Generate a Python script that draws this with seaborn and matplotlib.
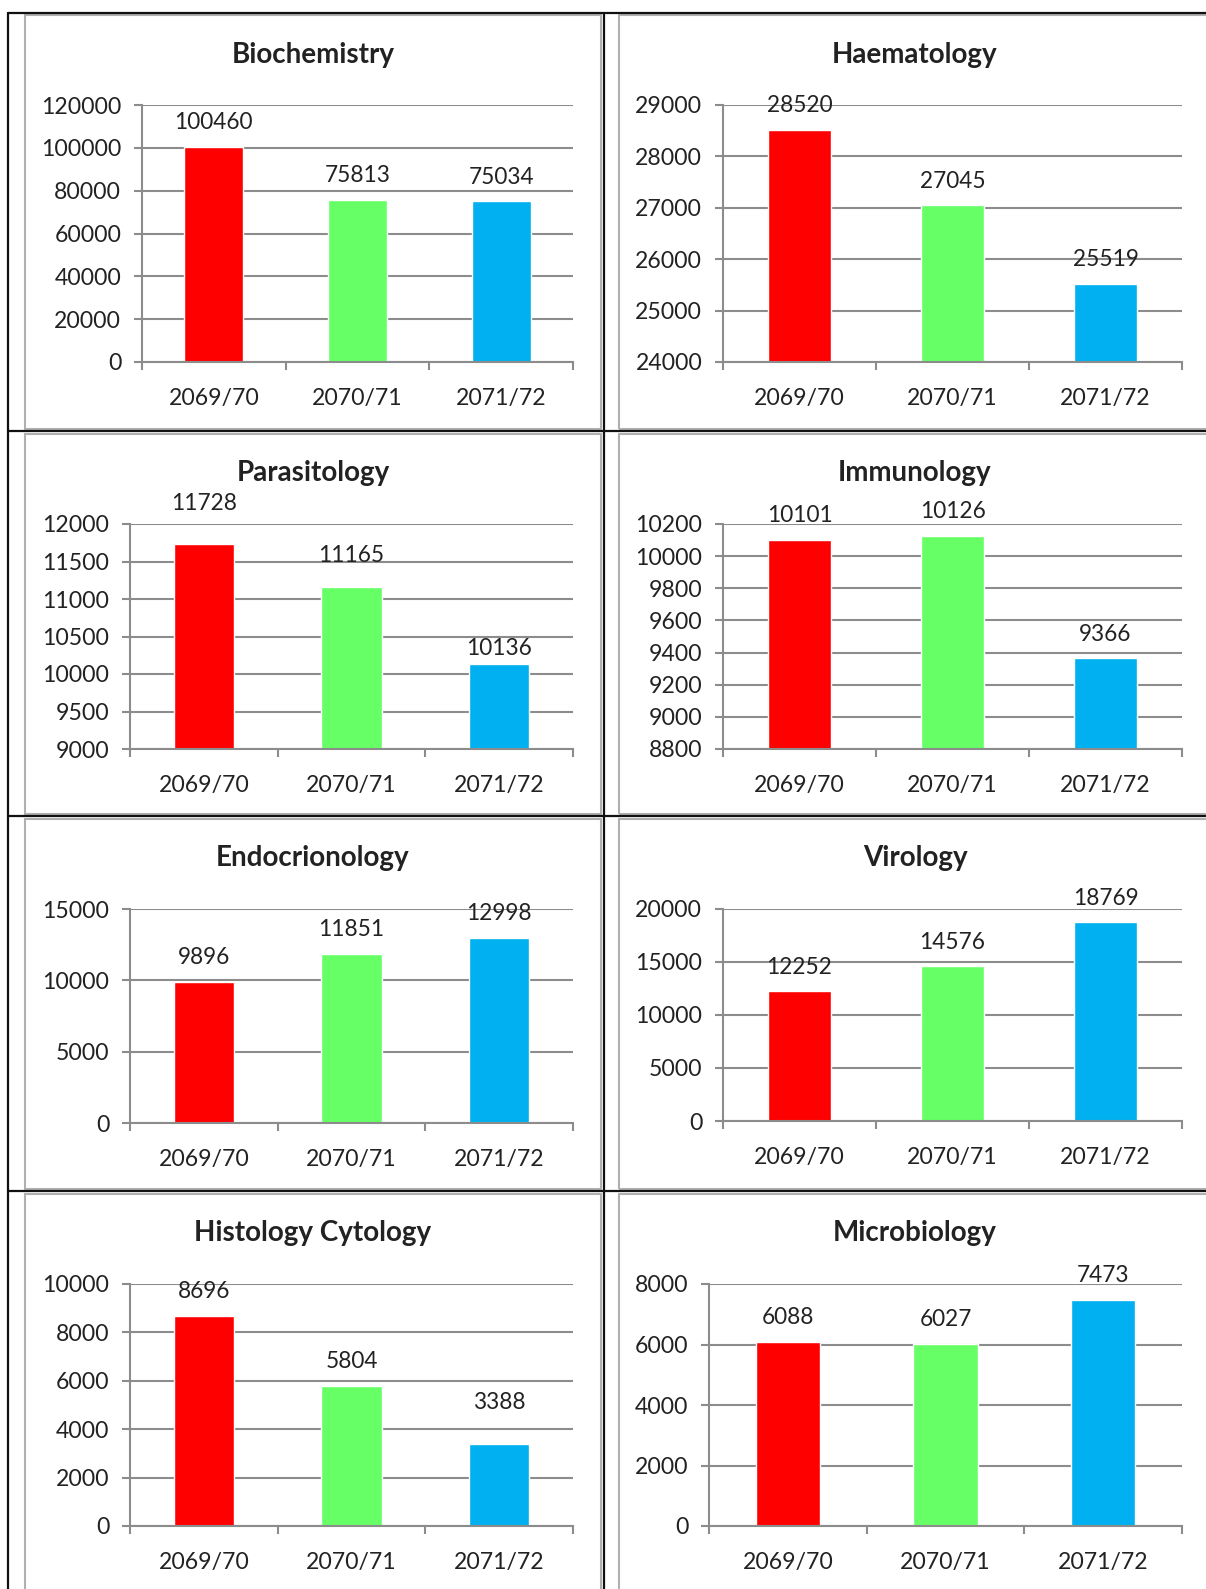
import numpy as np
import pandas as pd
import matplotlib
matplotlib.use("Agg")
import matplotlib.pyplot as plt
from matplotlib.lines import Line2D
from matplotlib.patches import Rectangle
import seaborn as sns

# ---------------- data ----------------
years = ["2069/70", "2070/71", "2071/72"]
bar_colors = ["#FF0000", "#66FF66", "#00B0F0"]

titles = ["Biochemistry", "Haematology", "Parasitology", "Immunology",
          "Endocrionology", "Virology", "Histology Cytology", "Microbiology"]

biochemistry = [100460, 75813, 75034]
haematology = [28520, 27045, 25519]
parasitology = [11728, 11165, 10136]
immunology = [10101, 10126, 9366]
endocrionology = [9896, 11851, 12998]
virology = [12252, 14576, 18769]
histology_cytology = [8696, 5804, 3388]
microbiology = [6088, 6027, 7473]

# y-axis ranges: (min, max, step)
y_biochemistry = (0, 120000, 20000)
y_haematology = (24000, 29000, 1000)
y_parasitology = (9000, 12000, 500)
y_immunology = (8800, 10200, 200)
y_endocrionology = (0, 15000, 5000)
y_virology = (0, 20000, 5000)
y_histology = (0, 10000, 2000)
y_microbiology = (0, 8000, 2000)

series = [biochemistry, haematology, parasitology, immunology,
          endocrionology, virology, histology_cytology, microbiology]
yranges = [y_biochemistry, y_haematology, y_parasitology, y_immunology,
           y_endocrionology, y_virology, y_histology, y_microbiology]

# label offsets above the bar tops (points); a few labels were moved by hand
DEF = 17.3
label_offsets = [
    [DEF, DEF, DEF], [DEF, DEF, DEF],
    [29.7, 22.4, 10.7], [DEF, DEF, DEF],
    [DEF, DEF, DEF], [DEF, DEF, DEF],
    [DEF, DEF, 29.7], [DEF, DEF, DEF],
]

# ---------------- layout (pixels) ----------------
W, H = 1206, 1589
sns.set_theme(style="white")
plt.rcParams['font.family'] = ['Lato', 'DejaVu Sans']

fig = plt.figure(figsize=(W / 100, H / 100), dpi=100)
fig.patch.set_facecolor("white")


def fx(x):
    return x / W


def fy(y):
    return 1 - y / H


# plot areas: (left, right, top, bottom)
areas = [
    (142, 573, 105, 362), (723, 1182, 105, 362),
    (130, 573, 524, 749), (723, 1182, 524, 749),
    (130, 573, 909, 1123), (723, 1182, 909, 1121),
    (130, 573, 1284, 1526), (709, 1182, 1284, 1526),
]
title_y = [55, 55, 473, 473, 858, 858, 1233, 1233]
title_x = [313, 915]

# chart frames (left, top, right, bottom)
frames = [
    (25, 15, 601, 429), (619, 15, 1215, 429),
    (25, 434, 601, 814), (619, 434, 1215, 814),
    (25, 819, 601, 1189), (619, 819, 1215, 1189),
    (25, 1194, 601, 1600), (619, 1194, 1215, 1600),
]
for (l, t, r, b) in frames:
    fig.add_artist(Rectangle((fx(l), fy(b)), fx(r - l), (b - t) / H,
                             transform=fig.transFigure, fill=False,
                             edgecolor="#B0B0B0", linewidth=1.5))

# table black lines
black = "#111111"
for x in [8, 604]:
    fig.add_artist(Line2D([fx(x), fx(x)], [fy(13), fy(1600)],
                          transform=fig.transFigure, color=black, lw=1.6))
for y in [13, 431, 816, 1191]:
    fig.add_artist(Line2D([fx(8), fx(1206)], [fy(y), fy(y)],
                          transform=fig.transFigure, color=black, lw=1.6))

grid_c = "#8C8C8C"
text_c = "#222222"

for i, (vals, (ymin, ymax, step), (l, r, t, b)) in enumerate(zip(series, yranges, areas)):
    ax = fig.add_axes([fx(l), fy(b), fx(r - l), (b - t) / H])
    df = pd.DataFrame({"year": years, "value": vals})
    sns.barplot(data=df, x="year", y="value", hue="year", palette=bar_colors,
                legend=False, width=0.41, ax=ax, saturation=1)
    ax.set_facecolor("none")
    ax.set_xlim(-0.5, 2.5)
    ax.set_ylim(ymin, ymax)
    ticks = np.arange(ymin, ymax + step / 2, step)
    ax.set_yticks(ticks)
    ax.set_yticklabels([f"{int(v)}" for v in ticks])
    ax.set_xlabel("")
    ax.set_ylabel("")
    ax.set_axisbelow(True)
    ax.yaxis.grid(True, color=grid_c, lw=1.5)
    ax.xaxis.grid(False)
    for s in ["top", "right"]:
        ax.spines[s].set_visible(False)
    for s in ["left", "bottom"]:
        ax.spines[s].set_color(grid_c)
        ax.spines[s].set_linewidth(1.5)
    ax.tick_params(axis="y", length=5.5, width=1.5, color=grid_c, direction="out",
                   pad=9.5, labelsize=16.6, labelcolor=text_c, left=True)
    ax.set_xticks([0, 1, 2])
    ax.set_xticks([-0.5, 0.5, 1.5, 2.5], minor=True)
    ax.tick_params(axis="x", which="major", length=0, pad=18.5, labelsize=16.6,
                   labelcolor=text_c)
    ax.tick_params(axis="x", which="minor", length=6, width=1.5, color=grid_c,
                   direction="out", bottom=True)
    for j, v in enumerate(vals):
        ax.annotate(f"{v}", xy=(j, v), xytext=(0, label_offsets[i][j]),
                    textcoords="offset points", ha="center", va="center",
                    fontsize=16.3, color=text_c, annotation_clip=False)
    fig.text(fx(title_x[i % 2]), fy(title_y[i]), titles[i], ha="center", va="center",
             fontsize=20, fontweight="bold", color=text_c)

fig.savefig("out.png", dpi=100, facecolor="white")
